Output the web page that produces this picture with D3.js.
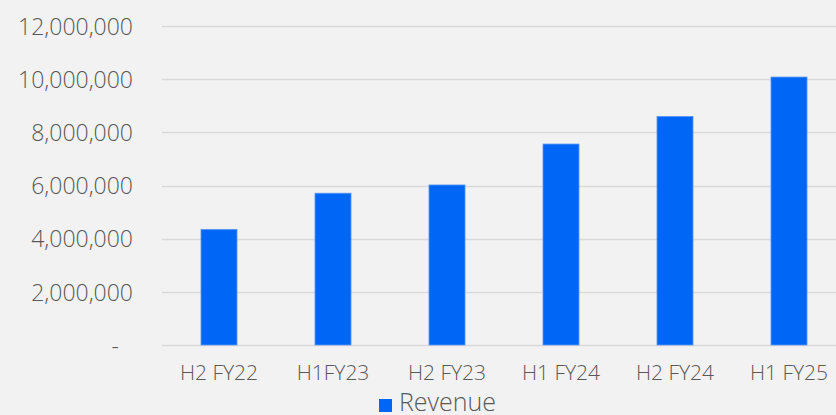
<!DOCTYPE html>
<html>
<head>
<meta charset="utf-8">
<script src="https://cdn.jsdelivr.net/npm/d3@7"></script>
<style>
  html, body { margin: 0; padding: 0; background: #f2f2f2; overflow: hidden; }
  svg { display: block; }
  text { font-family: "Century Gothic", "Open Sans", sans-serif; fill: #595959; }
</style>
</head>
<body>
<svg id="chart" width="836" height="415"></svg>
<script>
// Half-year revenue
const periods = ["H2 FY22", "H1FY23", "H2 FY23", "H1 FY24", "H2 FY24", "H1 FY25"];
const revenue = [4350000, 5710000, 6020000, 7560000, 8600000, 10080000];
const yTicks = [0, 2000000, 4000000, 6000000, 8000000, 10000000, 12000000];
const seriesName = "Revenue";

const svg = d3.select("#chart");
const margin = { left: 162, right: -10, top: 26, bottom: 70 };
const W = 836, H = 415;
const fontStack = "'Century Gothic', 'Open Sans', sans-serif";

const x = d3.scaleBand()
  .domain(periods)
  .range([margin.left, W - margin.right])
  .paddingInner(0.684)
  .paddingOuter(0.342);

const y = d3.scaleLinear()
  .domain([0, 12000000])
  .range([H - margin.bottom, margin.top]);

const fmt = v => v === 0 ? "-" : d3.format(",")(v);

// gridlines
svg.append("g")
  .selectAll("line")
  .data(yTicks)
  .join("line")
  .attr("x1", margin.left)
  .attr("x2", W)
  .attr("y1", d => Math.round(y(d)) + 0.5)
  .attr("y2", d => Math.round(y(d)) + 0.5)
  .attr("stroke", "#d9d9d9")
  .attr("stroke-width", 1.3);

// y axis labels
const yAxis = d3.axisLeft(y).tickValues(yTicks).tickFormat(fmt).tickSize(0).tickPadding(0);
const gy = svg.append("g").attr("transform", `translate(133,0)`).call(yAxis);
gy.select(".domain").remove();
gy.selectAll("text")
  .attr("font-size", 23)
  .attr("font-weight", 300)
  .attr("fill", "#595959")
  .attr("font-family", fontStack)
  .attr("dy", "0.36em")
  .attr("dx", d => d === 0 ? -14 : 0);

// bars
svg.append("g")
  .selectAll("rect")
  .data(periods.map((p, i) => ({ p, v: revenue[i] })))
  .join("rect")
  .attr("x", d => x(d.p))
  .attr("width", x.bandwidth())
  .attr("y", d => y(d.v))
  .attr("height", d => y(0) - y(d.v))
  .attr("fill", "#0066f5")
  .attr("stroke", "#5c97f2")
  .attr("stroke-width", 0.8);

// x axis labels
const xAxis = d3.axisBottom(x).tickSize(0).tickPadding(0);
const gx = svg.append("g").attr("transform", `translate(0,380)`).call(xAxis);
gx.select(".domain").remove();
gx.selectAll("text")
  .attr("font-size", 21)
  .attr("font-weight", 300)
  .attr("fill", "#595959")
  .attr("font-family", fontStack)
  .attr("dy", "0");

// legend
const lg = svg.append("g").attr("transform", "translate(379,399)");
lg.append("rect").attr("width", 13).attr("height", 13).attr("fill", "#0066f5");
lg.append("text").attr("x", 20).attr("y", 12).attr("font-size", 25).attr("font-weight", 300).text(seriesName);
</script>
</body>
</html>
